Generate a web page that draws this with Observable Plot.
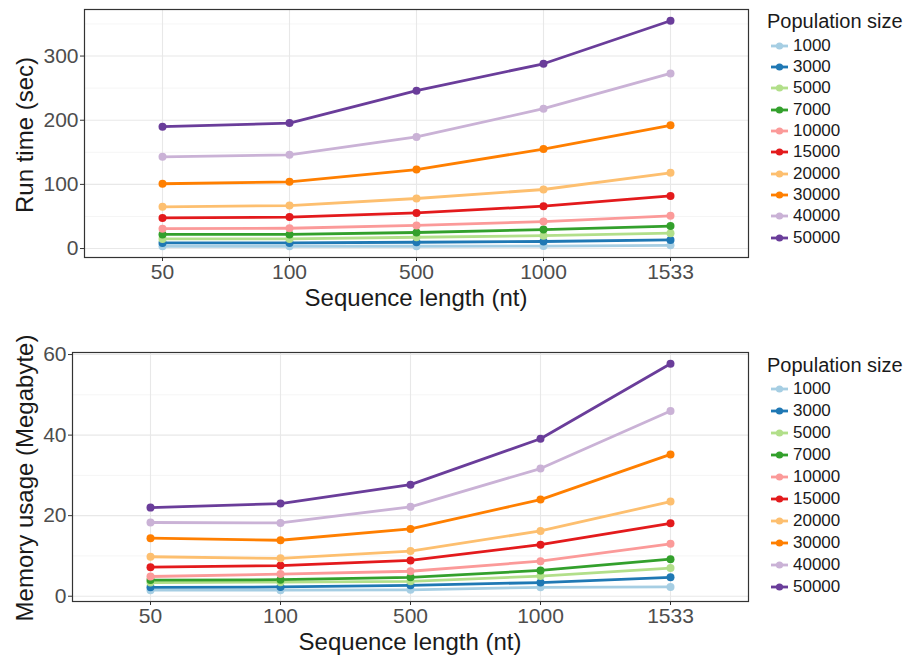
<!DOCTYPE html>
<html>
<head>
<meta charset="utf-8">
<script src="https://cdn.jsdelivr.net/npm/d3@7"></script>
<script src="https://cdn.jsdelivr.net/npm/@observablehq/plot@0.6"></script>
<style>
  body { margin: 0; background: #fff; font-family: "Liberation Sans", Arial, Helvetica, sans-serif; }
  #root { position: relative; width: 907px; height: 661px; overflow: hidden; background: #fff; }
  .abs { position: absolute; white-space: nowrap; }
  .axis-title { font-size: 24px; line-height: 1; color: #1a1a1a; }
  .legend-title { font-size: 20px; line-height: 1; color: #1a1a1a; }
  .legend-item { font-size: 17px; line-height: 20px; height: 20px; color: #1a1a1a; display: flex; align-items: center; }
  .legend-item svg { margin-right: 5px; }
</style>
</head>
<body>
<div id="root"></div>
<script>
// ---- Data ----
const lengths = ["50", "100", "500", "1000", "1533"];
const popSizes = ["1000", "3000", "5000", "7000", "10000", "15000", "20000", "30000", "40000", "50000"];
const palette = ["#a6cee3", "#1f78b4", "#b2df8a", "#33a02c", "#fb9a99", "#e31a1c", "#fdbf6f", "#ff7f00", "#cab2d6", "#6a3d9a"];

// Run time (sec) per population size, by sequence length
const runTime1000  = [3.6, 3.6, 3.6, 3.8, 5];
const runTime3000  = [8.8, 8.8, 9.8, 11, 13.5];
const runTime5000  = [15, 15, 17.6, 20, 24];
const runTime7000  = [22, 22, 25, 29.5, 35];
const runTime10000 = [31, 31.6, 36, 42, 51];
const runTime15000 = [47.7, 49, 55.5, 66, 82];
const runTime20000 = [65, 67, 78, 92, 118];
const runTime30000 = [101, 104, 123, 155, 192];
const runTime40000 = [143, 146, 174, 218, 273];
const runTime50000 = [190, 195.5, 246, 288, 355];

// Memory usage (Megabyte) per population size, by sequence length
const memory1000  = [1.5, 1.5, 1.6, 2.2, 2.3];
const memory3000  = [2.2, 2.3, 2.7, 3.4, 4.7];
const memory5000  = [3.4, 3.5, 3.7, 5.0, 7.0];
const memory7000  = [4.0, 4.1, 4.7, 6.4, 9.2];
const memory10000 = [4.9, 5.5, 6.2, 8.7, 13];
const memory15000 = [7.2, 7.6, 8.9, 12.8, 18.1];
const memory20000 = [9.8, 9.4, 11.2, 16.2, 23.5];
const memory30000 = [14.4, 13.9, 16.7, 24, 35.2];
const memory40000 = [18.3, 18.2, 22.2, 31.7, 46];
const memory50000 = [22, 23, 27.7, 39.1, 57.7];

const runTimeTicks = [0, 100, 200, 300];
const runTimeMinor = [50, 150, 250, 350];
const memoryTicks = [0, 20, 40, 60];
const memoryMinor = [10, 30, 50];

const xTitle = "Sequence length (nt)";
const runTimeTitle = "Run time (sec)";
const memoryTitle = "Memory usage (Megabyte)";
const legendTitle = "Population size";

// ---- Build tidy rows ----
const runTimeSeries = [runTime1000, runTime3000, runTime5000, runTime7000, runTime10000,
  runTime15000, runTime20000, runTime30000, runTime40000, runTime50000];
const memorySeries = [memory1000, memory3000, memory5000, memory7000, memory10000,
  memory15000, memory20000, memory30000, memory40000, memory50000];

function toRows(series) {
  return series.flatMap((vals, i) => vals.map((v, j) => ({len: lengths[j], pop: popSizes[i], value: v})));
}

function expandDomain(rows) {
  const [lo, hi] = d3.extent(rows, d => d.value);
  const pad = (hi - lo) * 0.05;
  return [lo - pad, hi + pad];
}

const root = document.getElementById("root");

function panel({rows, ticks, minor, top, width, height, mLeft, mTop, mBottom, mRight}) {
  const chart = Plot.plot({
    width, height,
    marginLeft: mLeft, marginRight: mRight, marginTop: mTop, marginBottom: mBottom,
    style: {fontFamily: '"Liberation Sans", Arial, sans-serif', fontSize: "21px", color: "#4d4d4d", background: "transparent", overflow: "visible"},
    x: {type: "point", domain: lengths, padding: 0.6},
    y: {domain: expandDomain(rows)},
    color: {domain: popSizes, range: palette},
    marks: [
      Plot.gridY(minor, {stroke: "#f2f2f2", strokeOpacity: 1, strokeWidth: 0.8}),
      Plot.gridY(ticks, {stroke: "#e8e8e8", strokeOpacity: 1, strokeWidth: 1.1}),
      Plot.gridX(lengths, {stroke: "#e8e8e8", strokeOpacity: 1, strokeWidth: 1.1}),
      Plot.axisY(ticks, {tickSize: 4, tickPadding: 2, fontSize: 21, label: null, stroke: "#333"}),
      Plot.axisX(lengths, {tickSize: 4, tickPadding: 3, fontSize: 21, label: null, stroke: "#333"}),
      Plot.line(rows, {x: "len", y: "value", z: "pop", stroke: "pop", strokeWidth: 2.8}),
      Plot.dot(rows, {x: "len", y: "value", fill: "pop", r: 4}),
      Plot.frame({stroke: "#333", strokeWidth: 1.2})
    ]
  });
  chart.style.position = "absolute";
  chart.style.left = "0px";
  chart.style.top = top + "px";
  root.appendChild(chart);
}

function addText(cls, text, css) {
  const d = document.createElement("div");
  d.className = "abs " + cls;
  d.textContent = text;
  Object.assign(d.style, css);
  root.appendChild(d);
  return d;
}

function legend(titleTop, firstCenter, step) {
  addText("legend-title", legendTitle, {left: "767px", top: titleTop + "px"});
  popSizes.forEach((p, i) => {
    const item = document.createElement("div");
    item.className = "abs legend-item";
    item.style.left = "771px";
    item.style.top = (firstCenter + i * step - 10) + "px";
    const svg = d3.create("svg").attr("width", 17).attr("height", 20);
    svg.append("line").attr("x1", 0).attr("x2", 17).attr("y1", 10).attr("y2", 10)
      .attr("stroke", palette[i]).attr("stroke-width", 2.8);
    svg.append("circle").attr("cx", 8.5).attr("cy", 10).attr("r", 3.6).attr("fill", palette[i]);
    item.appendChild(svg.node());
    const span = document.createElement("span");
    span.textContent = p;
    item.appendChild(span);
    root.appendChild(item);
  });
}

// Top panel: run time
panel({rows: toRows(runTimeSeries), ticks: runTimeTicks, minor: runTimeMinor,
  top: 0, width: 760, height: 320, mLeft: 84, mTop: 9, mBottom: 63, mRight: 12});
// Bottom panel: memory
panel({rows: toRows(memorySeries), ticks: memoryTicks, minor: memoryMinor,
  top: 330, width: 760, height: 331, mLeft: 72, mTop: 22, mBottom: 60, mRight: 12});

// Axis titles
addText("axis-title", xTitle, {left: "416px", top: "298px", transform: "translate(-50%, -50%)"});
addText("axis-title", xTitle, {left: "410px", top: "642px", transform: "translate(-50%, -50%)"});
addText("axis-title", runTimeTitle, {left: "25px", top: "135px", transform: "translate(-50%, -50%) rotate(-90deg)"});
addText("axis-title", memoryTitle, {left: "25px", top: "478px", transform: "translate(-50%, -50%) rotate(-90deg)"});

// Legends
legend(11, 45.7, 21.33);
legend(355, 389.3, 21.93);
</script>
</body>
</html>
